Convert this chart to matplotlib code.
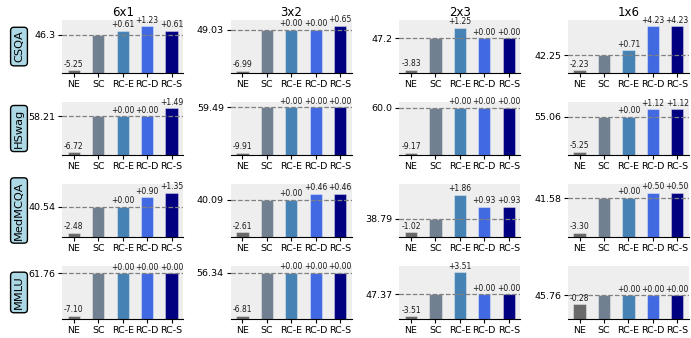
import matplotlib
matplotlib.use("Agg")
import matplotlib.pyplot as plt

methods = ["NE", "SC", "RC-E", "RC-D", "RC-S"]
settings = ["6x1", "3x2", "2x3", "1x6"]
datasets = ["CSQA", "HSwag", "MedMCQA", "MMLU"]
colors = ["#696969", "#708090", "#4682B4", "#4169E1", "#000080"]

# SC accuracy per dataset (rows) and setting (columns)
sc_acc = {
    "CSQA":    [46.3, 49.03, 47.2, 42.25],
    "HSwag":   [58.21, 59.49, 60.0, 55.06],
    "MedMCQA": [40.54, 40.09, 38.79, 41.58],
    "MMLU":    [61.76, 56.34, 47.37, 45.76],
}
# differences w.r.t. SC for NE, RC-E, RC-D, RC-S
ne_diff = {
    "CSQA":    [-5.25, -6.99, -3.83, -2.23],
    "HSwag":   [-6.72, -9.91, -9.17, -5.25],
    "MedMCQA": [-2.48, -2.61, -1.02, -3.30],
    "MMLU":    [-7.10, -6.81, -3.51, -0.28],
}
rce_diff = {
    "CSQA":    [0.61, 0.00, 1.25, 0.71],
    "HSwag":   [0.00, 0.00, 0.00, 0.00],
    "MedMCQA": [0.00, 0.00, 1.86, 0.00],
    "MMLU":    [0.00, 0.00, 3.51, 0.00],
}
rcd_diff = {
    "CSQA":    [1.23, 0.00, 0.00, 4.23],
    "HSwag":   [0.00, 0.00, 0.00, 1.12],
    "MedMCQA": [0.90, 0.46, 0.93, 0.50],
    "MMLU":    [0.00, 0.00, 0.00, 0.00],
}
rcs_diff = {
    "CSQA":    [0.61, 0.65, 0.00, 4.23],
    "HSwag":   [1.49, 0.00, 0.00, 1.12],
    "MedMCQA": [1.35, 0.46, 0.93, 0.50],
    "MMLU":    [0.00, 0.00, 0.00, 0.00],
}

fig, axes = plt.subplots(4, 4, figsize=(6.91, 3.38), dpi=100)
fig.subplots_adjust(left=0.09, right=0.997, top=0.941, bottom=0.056,
                    wspace=0.394, hspace=0.54)

for r, ds in enumerate(datasets):
    for c, st in enumerate(settings):
        ax = axes[r, c]
        sc = sc_acc[ds][c]
        diffs = [ne_diff[ds][c], 0.0, rce_diff[ds][c], rcd_diff[ds][c], rcs_diff[ds][c]]
        vals = [sc + d for d in diffs]
        x = list(range(len(methods)))
        ax.set_facecolor("#EEEEEE")
        ax.bar(x, vals, width=0.5, color=colors,
               edgecolor=(1, 1, 1, 0.35), linewidth=0.8, zorder=2)
        lo, hi = min(vals), max(vals)
        ax.set_ylim(lo * 0.99, hi * 1.02)
        ax.axhline(sc, color="gray", linestyle="--", linewidth=0.9, zorder=3)
        for i, (v, d) in enumerate(zip(vals, diffs)):
            if i == 1:
                continue
            ax.text(i, v + (hi * 1.02 - lo * 0.99) * 0.03, f"{d:+.2f}",
                    ha="center", va="bottom", fontsize=5.5, color="#1a1a1a")
        ax.set_yticks([sc])
        ax.set_yticklabels([str(sc)], fontsize=6.8)
        ax.set_xticks(x)
        ax.set_xticklabels(methods, fontsize=6.8)
        ax.tick_params(axis="x", length=3, pad=2)
        ax.tick_params(axis="y", length=3, pad=2)
        for s in ["top", "right", "left"]:
            ax.spines[s].set_visible(False)
        if r == 0:
            ax.set_title(st, fontsize=8.5, pad=3)

for r, ds in enumerate(datasets):
    pos = axes[r, 0].get_position()
    fig.text(19 / 691, (pos.y0 + pos.y1) / 2, ds, rotation=90,
             ha="center", va="center", fontsize=8.2,
             bbox=dict(boxstyle="round,pad=0.3", facecolor="lightblue",
                       edgecolor="black", linewidth=1))

fig.savefig("out.png", dpi=100)
